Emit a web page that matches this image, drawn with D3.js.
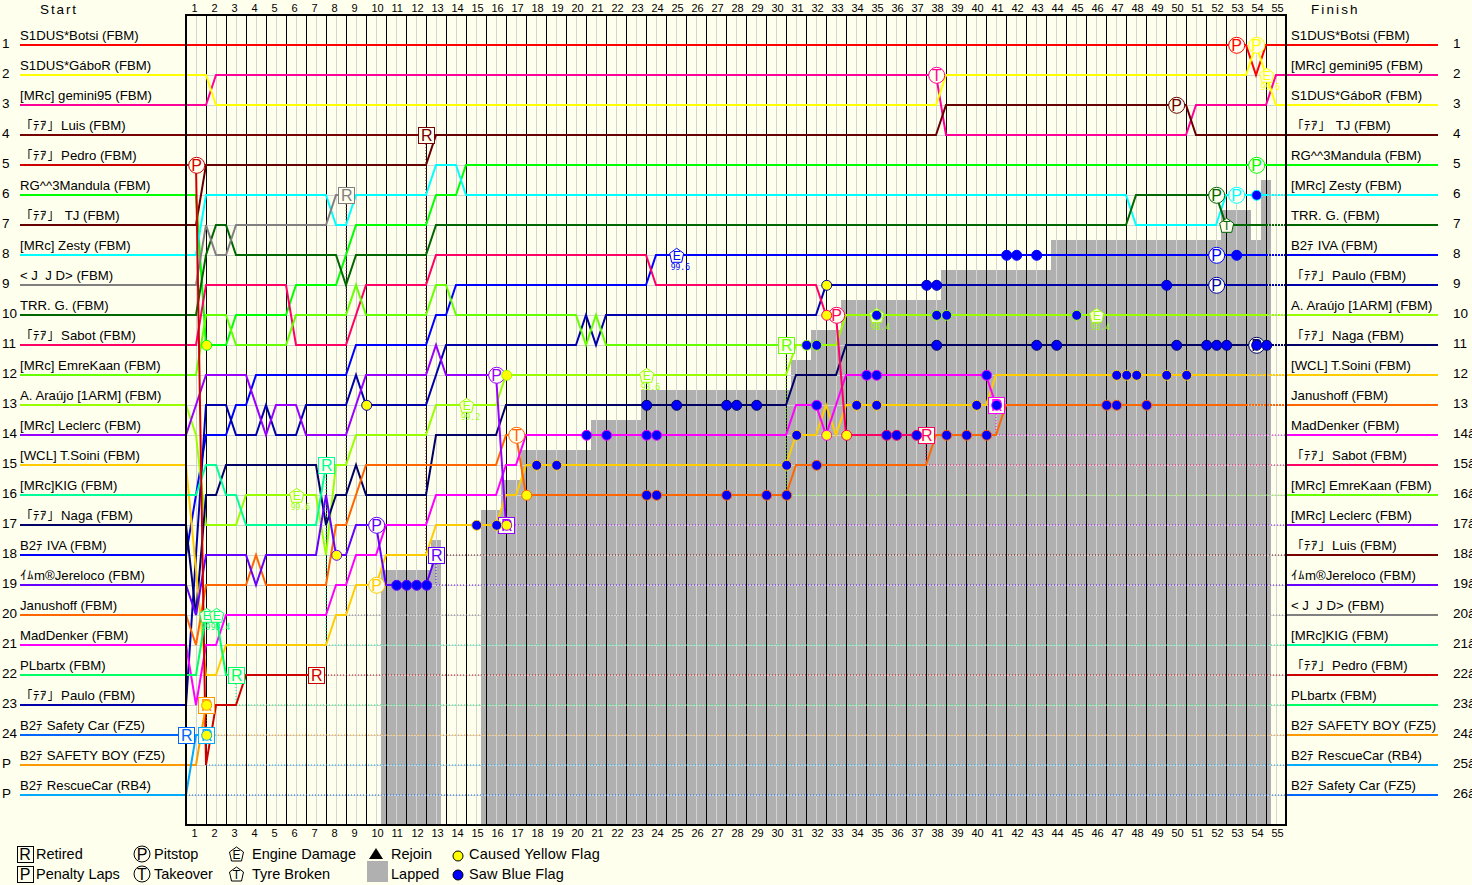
<!DOCTYPE html>
<html>
<head>
<meta charset="utf-8">
<script src="https://d3js.org/d3.v7.min.js"></script>
<style>
  html, body { margin: 0; padding: 0; background: #ffffee; overflow: hidden; }
  text { font-family: "Liberation Sans", Arial, sans-serif; fill: #000; white-space: pre; }
</style>
</head>
<body>
<div id="chart"></div>
<script>
// Lap chart - each car's [lap, position] knots

// Start grid and finishing order, top to bottom
var startOrder = ["botsi", "gabor", "gemini", "luis", "pedro", "mandula", "tj", "zesty", "jjd", "trr", "sabot", "emre", "araujo",
    "leclerc", "soini", "kig", "naga", "iva", "jereloco", "janushoff", "madDenker", "plbartx", "paulo", "safetyCar", "safetyBoy", "rescueCar"];
var finishOrder = ["botsi", "gemini", "gabor", "tj", "mandula", "zesty", "trr", "iva", "paulo", "araujo", "naga", "soini", "janushoff",
    "madDenker", "sabot", "emre", "leclerc", "luis", "jereloco", "jjd", "kig", "pedro", "plbartx", "safetyBoy", "rescueCar", "safetyCar"];

var names = {
    botsi: "S1DUS*Botsi (FBM)", gabor: "S1DUS*GáboR (FBM)", gemini: "[MRc] gemini95 (FBM)", luis: "「ﾃｱ」\u200aLuis (FBM)",
    pedro: "「ﾃｱ」\u200aPedro (FBM)", mandula: "RG^^3Mandula (FBM)", tj: "「ﾃｱ」 \u200aTJ (FBM)", zesty: "[MRc] Zesty (FBM)",
    jjd: "< J  J D> (FBM)", trr: "TRR. G. (FBM)", sabot: "「ﾃｱ」\u200aSabot (FBM)", emre: "[MRc] EmreKaan (FBM)",
    araujo: "A. Araújo [1ARM] (FBM)", leclerc: "[MRc] Leclerc (FBM)", soini: "[WCL] T.Soini (FBM)", kig: "[MRc]KIG (FBM)",
    naga: "「ﾃｱ」\u200aNaga (FBM)", iva: "B2ﾃ IVA (FBM)", jereloco: "ｲﾑm®Jereloco (FBM)", janushoff: "Janushoff (FBM)",
    madDenker: "MadDenker (FBM)", plbartx: "PLbartx (FBM)", paulo: "「ﾃｱ」\u200aPaulo (FBM)", safetyCar: "B2ﾃ Safety Car (FZ5)",
    safetyBoy: "B2ﾃ SAFETY BOY (FZ5)", rescueCar: "B2ﾃ RescueCar (RB4)"
};

var colors = {
    botsi: "#ff0000", gabor: "#ffff00", gemini: "#ff0099", luis: "#770000", pedro: "#cc0000", mandula: "#00ff00", tj: "#660000",
    zesty: "#00ffff", jjd: "#808080", trr: "#006600", sabot: "#ff0066", emre: "#66ff00", araujo: "#99ff00", leclerc: "#9900ff",
    soini: "#ffcc00", kig: "#00ff99", naga: "#000066", iva: "#0000ff", jereloco: "#6600ff", janushoff: "#ff6600",
    madDenker: "#ff00ff", plbartx: "#00ff66", paulo: "#0000aa", safetyCar: "#0066ff", safetyBoy: "#ff9900", rescueCar: "#00aaff"
};

// Position knots per car: [lap, position], straight lines in between
var knots = {
    botsi: [[0,1],[53,1],[53.5,2],[54,1],[55,1]],
    gabor: [[0,2],[1,2],[1.5,3],[37.5,3],[38,2],[53,2],[53.5,1],[54,2],[54.5,3],[55,3]],
    gemini: [[0,3],[1,3],[1.5,2],[37.5,2],[38,4],[50,4],[50.5,3],[54,3],[54.5,2],[55,2]],
    luis: [[0,4],[12,4]],
    pedro: [[0,5],[0.5,5],[1,25],[1.5,23],[2.5,23],[3,22],[6.5,22]],
    mandula: [[0,6],[0.5,6],[1,11],[2,11],[2.5,10],[5,10],[5.5,9],[7.5,9],[8.5,7],[12,7],[12.5,6],[13.5,6],[14,5],[55,5]],
    tj: [[0,7],[0.5,7],[1,5],[12,5],[12.5,4],[37.5,4],[38,3],[50,3],[50.5,4],[55,4]],
    zesty: [[0,8],[0.5,8],[1,6],[7,6],[7.5,7],[8,7],[8.5,6],[12,6],[12.5,5],[13.5,5],[14,6],[47,6],[47.5,7],[51.5,7],[52,6],[54,6]],
    jjd: [[0,9],[0.5,9],[1,7],[1.5,8],[2,8],[2.5,7],[7,7],[7.5,6],[8,6]],
    trr: [[0,10],[0.5,10],[1,8],[1.5,7],[2,7],[2.5,8],[7.5,8],[8,9],[8.5,8],[12,8],[12.5,7],[47,7],[47.5,6],[51.5,6],[52,7],[54,7]],
    sabot: [[0,11],[0.5,11],[1,9],[5,9],[5.5,11],[8,11],[9,9],[12,9],[12.5,8],[23,8],[23.5,9],[31.5,9],[32,10],[32.5,10],[33,14],[37,14]],
    emre: [[0,12],[0.5,12],[1,10],[2,10],[2.5,11],[5,11],[5.5,10],[8,10],[8.5,9],[9,10],[12,10],[12.5,9],[13,9],[13.5,10],[19.5,10],[20,11],[20.5,10],[21,11],[30,11]],
    araujo: [[0,13],[0.5,14],[1,17],[2.5,17],[3,16],[6.5,16],[7,18],[7.5,15],[8,15],[8.5,14],[12,14],[12.5,13],[15.5,13],[16,12],[30,12],[30.5,11],[32.5,11],[33,10],[54,10]],
    leclerc: [[0,14],[1,12],[3,12],[4,14],[4.5,13],[5.5,13],[6,14],[8,14],[9,12],[12,12],[12.5,11],[13,12],[15.5,12],[16,17]],
    soini: [[0,15],[1,22],[1.5,22],[2,21],[7,21],[7.5,20],[8,20],[8.5,19],[9.5,19],[10,18],[12,18],[12.5,17],[15.5,17],[16,16],[16.5,16],[17,15],[30,15],[30.5,14],[31.5,14],[32,13],[32.5,14],[33,13],[40,13],[40.5,12],[53,12]],
    kig: [[0,16],[0.5,16],[1,15],[1.5,15],[2,16],[2.5,16],[3,17],[6.5,17],[7,15]],
    naga: [[0,17],[0.5,20],[1,16],[1.5,16],[2,15],[6.5,15],[7,17],[7.5,16],[8,16],[8.5,15],[9,16],[12,16],[12.5,14],[15.5,14],[16,13],[30,13],[30.5,12],[32.5,12],[33,11],[54,11]],
    iva: [[0,18],[1,14],[2,14],[2.5,13],[3,13],[3.5,12],[8,12],[8.5,11],[12,11],[12.5,10],[13,10],[13.5,9],[23,9],[23.5,8],[54,8]],
    jereloco: [[0,19],[0.5,20],[1,18],[3,18],[3.5,19],[4,18],[6.5,18],[7,16],[7.5,18],[8,18],[8.5,17],[9.5,17],[10,19],[12,19],[12.5,18]],
    janushoff: [[0,20],[0.5,21],[1,19],[3,19],[3.5,18],[4,19],[7,19],[7.5,17],[8,17],[9,15],[15.5,15],[16,14],[16.5,14],[17,16],[30,16],[30.5,15],[37,15],[37.5,14],[40.5,14],[41,13],[53,13]],
    madDenker: [[0,21],[0.5,23],[1,21],[1.5,21],[2,20],[7,20],[7.5,19],[8,19],[8.5,18],[9.5,18],[10,17],[12,17],[12.5,16],[15.5,16],[16,15],[16.5,15],[17,14],[30,14],[30.5,13],[31.5,13],[32,14],[33,12],[40,12],[40.5,13]],
    plbartx: [[0,22],[0.5,22],[1,20],[1.5,20],[2,22],[2.5,22]],
    paulo: [[0,23],[0.5,18],[1,13],[2,13],[2.5,14],[3.5,14],[4,13],[4.5,14],[5.5,14],[6,13],[8,13],[8.5,12],[9,13],[12,13],[13,11],[19.5,11],[20,10],[20.5,11],[21,10],[31.5,10],[32,9],[54,9]],
    safetyCar: [[0,24]],
    safetyBoy: [[0,25],[0.5,25],[1,23]],
    rescueCar: [[0,26],[0.5,24],[1,24]]
};

// Lapped area: [from lap, to lap, top position]
var lappedSteps = [[9.75,12.25,18.5],[12.25,12.75,17.5],[14.75,15.75,16.5],[15.75,16.75,15.5],[16.75,20.25,14.5],[20.25,22.75,13.5],
    [22.75,30.25,12.5],[30.25,31.25,11.5],[31.25,32.75,10.5],[32.75,37.75,9.5],[37.75,43.25,8.5],[43.25,51.75,7.5],
    [51.75,53.25,6.5],[53.25,53.75,7.5],[53.75,54.25,5.5]];

// Events: [car, lap]
var retired = [["safetyCar",0],["rescueCar",1],["safetyBoy",1],["plbartx",2.5],["pedro",6.5],["kig",7],["jjd",8],["luis",12],
    ["jereloco",12.5],["leclerc",16],["emre",30],["sabot",37],["madDenker",40.5]];
var pitstops = [["pedro",0.5],["soini",9.5],["jereloco",9.5],["leclerc",15.5],["sabot",32.5],["botsi",52.5],["gabor",53.5],["tj",49.5],
    ["mandula",53.5],["trr",51.5],["zesty",52.5],["iva",51.5],["paulo",51.5],["naga",53.5]];
var takeovers = [["gemini",37.5],["janushoff",16.5]];
var tyreBroken = [["trr",52]];
// Engine damage: [car, lap, value]
var engineDamage = [["plbartx",1,"99.8"],["plbartx",1.5,"99.4"],["araujo",5.5,"99.6"],["araujo",14,"99.2"],["iva",24.5,"99.6"],
    ["araujo",23,"93.6"],["araujo",34.5,"98.4"],["araujo",45.5,"93.4"],["gabor",54,"99.6"]];
var yellowFlags = [["mandula",1],["safetyBoy",1],["rescueCar",1],["jereloco",7.5],["paulo",9],["araujo",16],["leclerc",16],["janushoff",17],
    ["paulo",32],["sabot",32],["madDenker",32],["sabot",33]];
var blueFlags = {
    jereloco: [10.5,11,11.5,12],
    soini: [14.5,15.5,17.5,18.5,30,30.5,33.5,34.5,39.5,46.5,47,47.5,49,50],
    janushoff: [23,23.5,27,29,30,31.5,38,39,40,46,46.5,48],
    naga: [23,24.5,27,27.5,28.5,37.5,42.5,43.5,49.5,51,51.5,52,53.5,54],
    madDenker: [20,21,23,23.5,31.5,34,34.5,40,40.5],
    sabot: [35,35.5,36.5],
    araujo: [31,31.5,34.5,37.5,38,44.5],
    paulo: [37,37.5,49],
    iva: [41,41.5,42.5,52.5],
    zesty: [53.5]
};

var laps = d3.range(1, 56);
var leftRowLabels = d3.range(1, 25).map(String).concat(["P", "P"]);
var rightRowLabels = d3.range(1, 27).map(function(r) { return r > 13 ? r + "â" : String(r); });

// Setup chart
var svgWidth = 1472;
var svgHeight = 885;
var bg = "#ffffee";

var svg = d3.select("#chart").append("svg")
    .attr("width", svgWidth)
    .attr("height", svgHeight)
    .style("display", "block");

var x = d3.scaleLinear().domain([0, 55]).range([186, 1286]);
var y = d3.scaleLinear().domain([1, 26]).range([45, 795]);
var plotTop = 15;
var plotBottom = 825;
var lineFn = d3.line().x(function(d) { return x(d[0]); }).y(function(d) { return y(d[1]); });

// Position of a car at a given lap, from its knots
function posAt(car, lap) {
    var k = knots[car];
    for (var i = 0; i < k.length - 1; i++) {
        if (lap >= k[i][0] && lap <= k[i + 1][0]) {
            var t = (lap - k[i][0]) / (k[i + 1][0] - k[i][0]);
            return k[i][1] + t * (k[i + 1][1] - k[i][1]);
        }
    }
    return k[k.length - 1][1];
}

// Lapped area
svg.append("g").selectAll("rect").data(lappedSteps).enter().append("rect")
    .attr("x", function(d) { return x(d[0]); })
    .attr("width", function(d) { return x(d[1]) - x(d[0]); })
    .attr("y", function(d) { return y(d[2]); })
    .attr("height", function(d) { return plotBottom - y(d[2]); })
    .attr("fill", "#b0b0b0")
    .attr("shape-rendering", "crispEdges");

// Grid
var grid = svg.append("g").attr("transform", "translate(0.5,0)").attr("shape-rendering", "crispEdges");
grid.selectAll(".row").data(d3.range(1, 27)).enter().append("line")
    .attr("x1", x(0)).attr("x2", x(55))
    .attr("y1", function(d) { return y(d); }).attr("y2", function(d) { return y(d); })
    .attr("stroke", "#d4d4d4");
grid.selectAll(".mid").data(laps).enter().append("line")
    .attr("x1", function(d) { return x(d - 0.5); }).attr("x2", function(d) { return x(d - 0.5); })
    .attr("y1", plotTop).attr("y2", plotBottom)
    .attr("stroke", "#d4d4d4");
grid.selectAll(".lap").data(laps.slice(0, 54)).enter().append("line")
    .attr("x1", function(d) { return x(d); }).attr("x2", function(d) { return x(d); })
    .attr("y1", plotTop).attr("y2", plotBottom)
    .attr("stroke", "#000");

// Dotted tails first, retired cars drop to their final row
var retiredCars = retired.map(function(d) { return d[0]; });
finishOrder.forEach(function(car, i) {
    var k = knots[car];
    var last = k[k.length - 1];
    if (last[0] >= 55) return;
    var isRetired = retiredCars.indexOf(car) >= 0;
    svg.append("path")
        .attr("d", lineFn([last, [last[0], i + 1], [55, i + 1]]))
        .attr("fill", "none")
        .attr("stroke", colors[car])
        .attr("stroke-width", isRetired ? 1 : 2)
        .attr("stroke-dasharray", isRetired ? "1,2" : "2,1");
});

// Car lines, in finishing order
finishOrder.forEach(function(car, i) {
    svg.append("path")
        .attr("d", lineFn(knots[car]))
        .attr("fill", "none")
        .attr("stroke", colors[car])
        .attr("stroke-width", 2);
    // Start and finish stubs outside the plot
    svg.append("line")
        .attr("x1", 20).attr("x2", x(0))
        .attr("y1", y(startOrder.indexOf(car) + 1)).attr("y2", y(startOrder.indexOf(car) + 1))
        .attr("stroke", colors[car]).attr("stroke-width", 2).attr("shape-rendering", "crispEdges");
    svg.append("line")
        .attr("x1", x(55)).attr("x2", 1438)
        .attr("y1", y(i + 1)).attr("y2", y(i + 1))
        .attr("stroke", colors[car]).attr("stroke-width", 2).attr("shape-rendering", "crispEdges");
});

// Plot border
svg.append("rect")
    .attr("x", x(0)).attr("y", plotTop)
    .attr("width", x(55) - x(0)).attr("height", plotBottom - plotTop)
    .attr("fill", "none").attr("stroke", "#000").attr("stroke-width", 2)
    .attr("shape-rendering", "crispEdges");

// Marks
var pentagon = "M0,-7L7,-2L5,7L-5,7L-7,-2Z";
var marks = svg.append("g").attr("transform", "translate(0.7,0.3)");

function letter(g, cx, cy, s, color) {
    g.append("text")
        .attr("x", cx).attr("y", cy + 5.5)
        .attr("text-anchor", "middle")
        .style("font-size", "16px")
        .style("fill", color)
        .text(s);
}

function pentMark(g, cx, cy, s, color) {
    g.append("path")
        .attr("d", pentagon)
        .attr("transform", "translate(" + cx + "," + cy + ")")
        .attr("fill", bg).attr("stroke", color);
    g.append("text")
        .attr("x", cx).attr("y", cy + 4.5)
        .attr("text-anchor", "middle")
        .style("font-size", "12px")
        .style("fill", color)
        .text(s);
}

engineDamage.forEach(function(d) {
    var cx = x(d[1]), cy = y(posAt(d[0], d[1]));
    pentMark(marks, cx, cy, "E", colors[d[0]]);
    marks.append("text")
        .attr("x", cx - 6).attr("y", cy + 15)
        .style("font-family", "'DejaVu Sans Mono', monospace")
        .style("font-size", "8px")
        .style("fill", colors[d[0]])
        .text(d[2]);
});

tyreBroken.forEach(function(d) {
    pentMark(marks, x(d[1]), y(posAt(d[0], d[1])), "T", colors[d[0]]);
});

retired.forEach(function(d) {
    var cx = x(d[1]), cy = y(posAt(d[0], d[1]));
    marks.append("rect")
        .attr("x", cx - 8).attr("y", cy - 8).attr("width", 16).attr("height", 16)
        .attr("fill", bg).attr("stroke", colors[d[0]]).attr("stroke-width", 1)
        .attr("shape-rendering", "crispEdges");
    letter(marks, cx, cy, "R", colors[d[0]]);
});

pitstops.concat(takeovers).forEach(function(d, i) {
    var cx = x(d[1]), cy = y(posAt(d[0], d[1]));
    marks.append("circle")
        .attr("cx", cx).attr("cy", cy).attr("r", 8)
        .attr("fill", bg).attr("stroke", colors[d[0]]).attr("stroke-width", 1);
    letter(marks, cx, cy, i < pitstops.length ? "P" : "T", colors[d[0]]);
});

// Flags on top of the marks
function flag(cx, cy, fill, color) {
    marks.append("circle")
        .attr("cx", cx).attr("cy", cy).attr("r", 5)
        .attr("fill", fill).attr("stroke", color).attr("stroke-width", 1);
}

yellowFlags.forEach(function(d) {
    flag(x(d[1]), y(posAt(d[0], d[1])), "#ffff00", colors[d[0]]);
});
Object.keys(blueFlags).forEach(function(car) {
    blueFlags[car].forEach(function(lap) {
        flag(x(lap), y(posAt(car, lap)), "#0000ff", colors[car]);
    });
});

// Lap numbers top and bottom, starting just left of the mid lap line
var axisFmt = function(v) { return v + 0.5; };
var topAxis = d3.axisTop(x).tickValues(laps.map(function(l) { return l - 0.5; })).tickFormat(axisFmt).tickSize(0).tickPadding(0);
var bottomAxis = d3.axisBottom(x).tickValues(laps.map(function(l) { return l - 0.5; })).tickFormat(axisFmt).tickSize(0).tickPadding(0);

[svg.append("g").attr("transform", "translate(0,12)").call(topAxis),
 svg.append("g").attr("transform", "translate(0,829)").call(bottomAxis)].forEach(function(a) {
    a.select(".domain").remove();
    a.attr("font-family", null).attr("font-size", null).attr("text-anchor", "start");
    a.selectAll("text").attr("x", -5).style("font-size", "11px");
});

// Titles
svg.append("text").attr("x", 40).attr("y", 14).style("font-size", "13.5px").style("letter-spacing", "1.9px").text("Start");
svg.append("text").attr("x", 1311).attr("y", 14).style("font-size", "13.5px").style("letter-spacing", "2.1px").text("Finish");

// Names and row numbers
svg.append("g").selectAll("text").data(startOrder).enter().append("text")
    .attr("x", 20)
    .attr("y", function(d, i) { return y(i + 1) - 5; })
    .style("font-size", "13.2px")
    .text(function(d) { return names[d]; });
svg.append("g").selectAll("text").data(finishOrder).enter().append("text")
    .attr("x", 1291)
    .attr("y", function(d, i) { return y(i + 1) - 5; })
    .style("font-size", "13.2px")
    .text(function(d) { return names[d]; });
svg.append("g").selectAll("text").data(leftRowLabels).enter().append("text")
    .attr("x", 2)
    .attr("y", function(d, i) { return y(i + 1) + 3; })
    .style("font-size", "13.5px")
    .text(function(d) { return d; });
svg.append("g").selectAll("text").data(rightRowLabels).enter().append("text")
    .attr("x", 1453)
    .attr("y", function(d, i) { return y(i + 1) + 3; })
    .style("font-size", "13.5px")
    .text(function(d) { return d; });

// Legend
var legend = svg.append("g");
function legendText(tx, ty, s, spacing) {
    legend.append("text").attr("x", tx).attr("y", ty)
        .style("font-size", "14.5px")
        .style("letter-spacing", spacing || "0")
        .text(s);
}
[["R", 854], ["P", 874]].forEach(function(d) {
    legend.append("rect").attr("x", 17).attr("y", d[1] - 8).attr("width", 16).attr("height", 16)
        .attr("fill", "none").attr("stroke", "#000").attr("shape-rendering", "crispEdges");
    letter(legend, 25, d[1], d[0], "#000");
});
[["P", 854], ["T", 874]].forEach(function(d) {
    legend.append("circle").attr("cx", 142).attr("cy", d[1]).attr("r", 8).attr("fill", "none").attr("stroke", "#000");
    letter(legend, 142, d[1], d[0], "#000");
});
pentMark(legend, 236.5, 854, "E", "#000");
pentMark(legend, 236.5, 874, "T", "#000");
legend.append("path").attr("d", "M369,859L376,848L383,859Z").attr("fill", "#000");
legend.append("rect").attr("x", 367).attr("y", 861).attr("width", 21).attr("height", 21).attr("fill", "#b0b0b0");
legend.append("circle").attr("cx", 458).attr("cy", 856).attr("r", 5).attr("fill", "#ffff00").attr("stroke", "#000");
legend.append("circle").attr("cx", 458).attr("cy", 875).attr("r", 5).attr("fill", "#0000ff").attr("stroke", "#000");
legendText(36, 859, "Retired");
legendText(36, 879, "Penalty Laps");
legendText(154, 859, "Pitstop");
legendText(154, 879, "Takeover");
legendText(252, 859, "Engine Damage");
legendText(252, 879, "Tyre Broken");
legendText(391, 859, "Rejoin");
legendText(391, 879, "Lapped");
legendText(469, 859, "Caused Yellow Flag", "0.2px");
legendText(469, 879, "Saw Blue Flag", "0.1px");
</script>
</body>
</html>
